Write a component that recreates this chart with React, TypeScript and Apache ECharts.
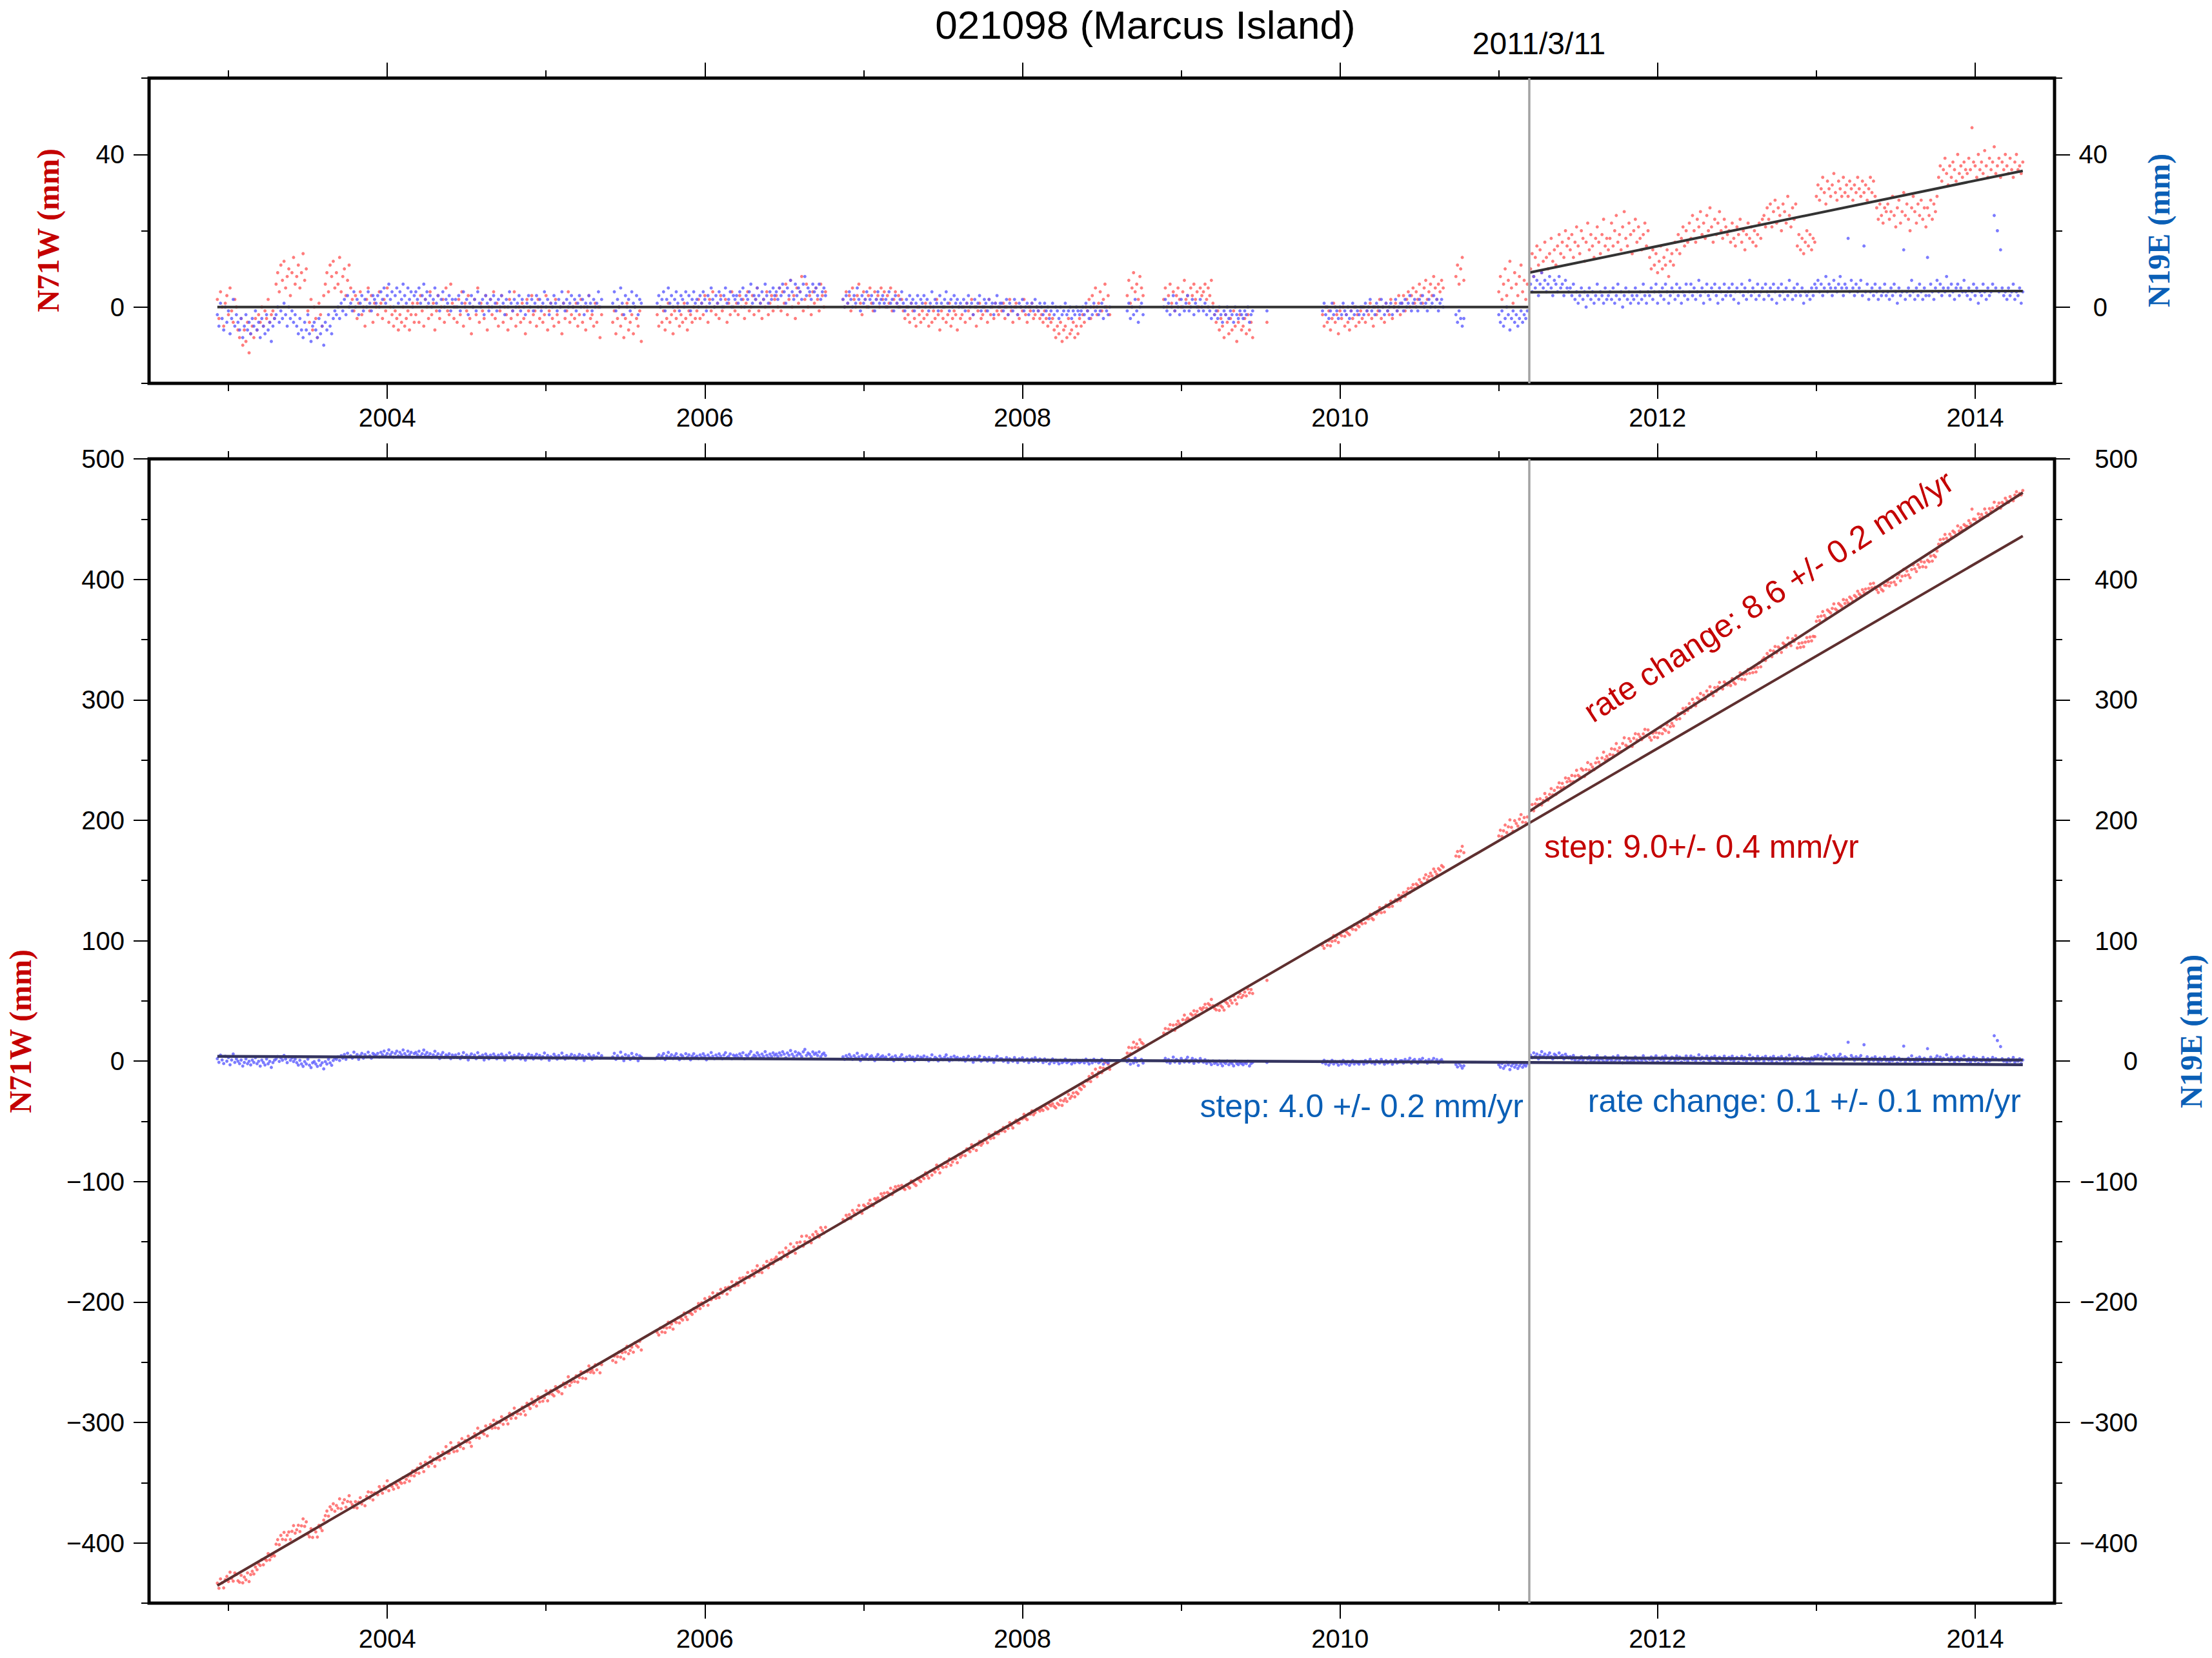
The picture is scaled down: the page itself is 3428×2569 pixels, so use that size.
import React, { useEffect, useRef } from "react";
import * as echarts from "echarts";

// ---------------- texts ----------------
const TITLE = "021098 (Marcus Island)";
const EVENT_LABEL = "2011/3/11";
const NAME_N71W = "N71W (mm)";
const NAME_N19E = "N19E (mm)";
const ANN_RED_RATE = "rate change: 8.6 +/- 0.2 mm/yr";
const ANN_RED_STEP = "step: 9.0+/- 0.4 mm/yr";
const ANN_BLUE_STEP = "step: 4.0 +/- 0.2 mm/yr";
const ANN_BLUE_RATE = "rate change: 0.1 +/- 0.1 mm/yr";

// ---------------- axes ----------------
const X_RANGE = [2002.5, 2014.5];
const X_MINOR_TICKS = [2003, 2004, 2005, 2006, 2007, 2008, 2009, 2010, 2011, 2012, 2013, 2014];
const X_MAJOR_TICKS = [2004, 2006, 2008, 2010, 2012, 2014];
const TOP_Y_RANGE = [-20, 60];
const TOP_Y_MINOR = [-20, 0, 20, 40, 60];
const TOP_Y_MAJOR = [0, 40];
const BOT_Y_RANGE = [-450, 500];
const BOT_Y_MINOR = [-450, -400, -350, -300, -250, -200, -150, -100, -50, 0, 50, 100, 150, 200, 250, 300, 350, 400, 450, 500];
const BOT_Y_MAJOR = [-400, -300, -200, -100, 0, 100, 200, 300, 400, 500];

const EVENT_T = 2011.19;

// ---------------- fitted model ----------------
const FIT_T = [2002.93, 2011.19, 2014.3];
const N71W_TREND = [-435.4, 197.5, 436.0]; // pre-event linear trend and its extension
const N71W_POST = [207.2, 472.0]; // step + rate change fit after the event
const N19E_TREND = [4.0, -1.1, -3.0];
const N19E_POST = [3.0, 0.9];
const N71W_RES_POST = [9.0, 35.7]; // detrended (upper panel) post-event fit
const N19E_RES_POST = [3.9, 4.2];

// ---------------- daily residuals, sampled every 0.01 yr ----------------
const SAMPLE_STEP = 0.01;
const SEG_START = [2002.93, 2005.42, 2005.7, 2006.87, 2008.66, 2008.89, 2009.54, 2009.89, 2010.73, 2011.0, 2011.2];

const N71W_RES = [
  [
    2,-3,4,0,-5,1,3,-2,5,-1,-4,2,0,-6,-8,-3,-10,-6,-9,-4,-12,-7,-5,-8,-3,
    -6,-2,-4,0,-5,-1,-3,2,-4,-2,-1,-3,6,9,4,11,7,12,5,8,10,3,9,13,6,
    8,11,5,9,14,7,10,-1,-4,2,-6,0,-3,-8,1,-2,-5,3,6,9,4,11,8,12,5,
    9,6,13,4,8,10,3,7,11,5,2,-1,3,-3,1,4,-2,0,-5,2,5,-1,3,-4,1,
    0,-2,4,1,-3,2,-1,5,-4,0,-2,-5,-1,-3,-6,-2,-4,0,-5,-3,-1,-6,-2,1,-4,
    -2,1,-4,3,-1,-5,2,0,-3,4,-2,1,-6,-1,3,-3,0,2,-4,5,-1,-2,6,1,-3,
    0,-4,2,-2,4,-5,1,-1,3,-3,-7,0,2,-2,5,-4,1,-1,-3,3,-6,0,2,-2,4,
    -3,1,-5,-1,3,-4,0,-2,-6,2,-3,-1,4,-5,-2,0,-4,1,-3,-7,2,-1,-4,3,-2,
    -1,-5,2,-3,0,-4,-2,3,-6,-1,1,-3,-5,2,-2,-4,0,-7,1,-3,-1,4,-4,-2,0,
    -3,1,-5,-2,2,-4,0,-6,-1,3,-3,-2,-5,1,-4,0,-8,-2,
  ],
  [-4,-1,-7,-3,0,-5,-2,-8,-3,1,-6,-4,-2,-7,0,-3,-5,-1,-9],
  [
    -2,-5,0,-4,-1,-6,-3,1,-4,-2,-7,-1,-3,0,-5,-2,-4,1,-3,-6,-1,-2,-4,0,-3,
    -1,2,-3,1,-2,3,0,-4,2,-1,4,0,-2,1,-3,3,-1,0,2,-4,1,-2,4,0,-1,
    1,-2,3,0,2,-3,1,4,-1,0,3,-2,2,5,-1,1,-3,2,0,4,-2,1,3,-1,2,
    3,0,5,-1,4,1,6,-2,2,7,0,3,-3,5,1,4,8,-1,2,6,0,3,-2,4,1,
    5,2,-1,6,3,0,4,
  ],
  [
    2,0,4,1,3,-1,5,2,0,3,6,1,-2,4,2,0,3,5,1,-1,4,2,3,0,5,
    2,4,0,3,1,5,-1,2,4,1,3,0,2,-1,-3,0,-2,-4,1,-1,-3,-5,0,-2,-4,
    -1,-3,1,-2,-5,0,-4,-1,-3,2,-2,-6,-1,-3,0,-4,-2,1,-5,-3,-1,-2,-6,0,-3,
    -2,0,-4,1,-1,-3,2,-2,0,-5,-1,1,-3,-2,0,-1,-4,2,-2,0,-3,1,-1,-2,0,
    -1,1,-3,0,-2,2,-1,-4,0,1,-2,-3,0,-1,2,-2,-4,0,-1,1,-3,-2,0,-1,-3,
    -2,-4,-1,-3,-5,-2,-4,-3,-6,-8,-5,-7,-4,-9,-6,-5,-8,-3,-7,-6,-4,-8,-5,-7,-3,
    -5,-2,-4,0,-1,2,-3,3,0,5,-2,1,4,-1,2,6,0,3,-2,
  ],
  [3,7,1,5,9,4,6,2,8,5,3],
  [
    2,5,0,3,6,1,4,-1,3,5,2,0,4,7,2,3,1,5,3,6,2,4,0,5,3,
    4,6,2,5,3,7,1,-2,-4,-1,-6,-3,-5,-8,-2,-4,-7,-3,-6,-1,-5,-9,-4,-2,-6,
    -5,-3,-7,-2,-6,-4,-8,
  ],
  [-4],
  [
    -2,-5,0,-4,-1,-6,-3,1,-4,-2,-7,-1,-3,0,-5,-2,-4,-6,-1,-3,0,-5,-2,-4,-1,
    -3,0,-4,-1,-2,1,-3,-5,0,-2,-1,2,-3,0,-4,1,-1,-2,2,-3,0,1,-1,3,-2,
    1,3,-1,2,4,0,3,5,1,4,2,6,3,1,5,7,2,4,6,3,8,5,2,6,4,
    7,5,
  ],
  [8,11,6,10,13,7],
  [4,8,2,6,10,3,7,12,5,1,9,6,3,8,11,4,7,2,6],
  [
    10,14,8,13,16,11,15,9,12,17,13,10,14,18,12,15,11,16,19,14,17,13,20,16,18,
    15,19,13,17,21,16,14,20,18,12,17,22,15,19,16,13,18,21,17,14,19,23,16,18,15,
    18,22,16,20,24,17,19,15,21,25,18,16,22,19,14,20,23,17,21,18,15,19,22,16,20,
    13,10,15,11,14,9,12,16,10,13,11,15,8,12,14,11,17,15,19,14,18,21,16,20,17,
    22,18,24,20,17,23,21,25,19,22,18,24,20,26,21,17,23,19,22,25,20,18,23,21,19,
    20,17,22,18,16,21,19,23,17,20,15,19,22,18,21,17,20,16,19,22,18,23,24,21,26,
    23,27,21,25,28,22,26,24,20,27,25,22,29,24,21,26,23,27,16,19,15,18,14,17,20,
    16,19,15,18,17,29,32,28,31,34,30,27,33,31,29,32,35,30,28,33,31,29,34,30,32,
    29,33,31,28,32,30,34,31,29,33,30,32,28,31,34,30,33,29,26,23,27,24,22,26,25,
    27,23,25,29,24,21,26,28,22,25,30,24,27,23,20,26,29,25,22,27,24,28,23,26,21,
    26,24,28,23,27,25,29,34,37,33,36,39,35,32,37,34,38,36,33,40,35,37,34,38,36,
    35,39,36,47,38,37,34,40,36,38,35,41,37,34,39,36,38,42,35,37,39,34,38,36,40,
    37,35,39,36,34,38,40,36,37,35,38,
  ],
];

const N19E_RES = [
  [
    -2,-5,1,-3,-6,0,-4,-1,-7,-3,2,-5,-2,-4,-6,-3,-8,-5,-2,-6,-4,-7,-3,-5,-1,
    -6,-4,-8,-3,-5,-7,-2,-6,-4,-9,-5,-3,-2,0,-4,-1,-3,1,-2,-5,0,-3,-1,-4,-2,
    -5,-7,-3,-6,-8,-4,-6,-2,-7,-9,-5,-4,-6,-8,-3,-7,-5,-10,-4,-6,-2,-5,-7,-3,-1,
    -2,0,-3,1,-1,2,-2,3,0,1,-1,4,0,2,-2,1,3,-1,2,0,4,1,-1,3,2,
    1,3,0,4,2,5,1,3,6,2,4,0,3,5,1,4,2,6,3,1,5,2,4,0,3,
    4,2,5,1,3,6,2,4,1,3,0,2,5,1,3,-1,2,4,0,2,1,3,-1,2,0,
    2,0,3,-1,1,4,0,2,-2,1,3,0,2,-1,4,1,0,2,-2,3,1,-1,2,0,3,
    1,-1,2,0,3,1,-2,2,0,4,1,-1,2,0,1,3,-1,2,0,-2,1,3,0,2,-1,
    1,3,0,2,-1,1,4,0,2,-2,1,0,3,1,-1,2,0,4,1,-1,2,0,1,3,0,
    2,-1,1,3,0,2,-2,1,0,3,1,-1,2,0,1,4,0,2,
  ],
  [1,4,-1,2,0,5,1,-2,3,0,2,-1,4,1,0,3,-2,2,1],
  [
    1,3,0,2,4,-1,2,5,1,3,0,2,4,1,-1,3,2,0,4,1,3,-1,2,4,1,
    2,0,3,1,4,2,-1,3,1,5,2,0,3,1,4,2,0,3,5,1,2,4,0,3,2,
    3,1,4,2,5,0,3,2,4,6,1,3,2,5,3,1,4,2,6,3,1,4,2,5,3,
    4,2,5,3,6,4,1,5,3,7,4,2,6,3,5,4,2,6,8,3,5,4,2,6,4,
    5,3,6,2,4,5,3,
  ],
  [
    2,0,3,1,4,2,0,3,1,5,2,-1,3,1,2,4,0,2,3,1,-1,2,4,1,2,
    3,1,2,0,4,1,2,-1,3,1,0,2,4,1,-1,2,0,3,1,2,-1,1,3,0,2,
    1,3,0,2,-1,1,4,0,2,1,-1,3,1,0,2,4,1,-1,2,0,3,1,2,0,1,
    0,2,-1,1,3,0,1,-2,2,0,1,3,-1,0,2,1,-1,2,0,1,-2,1,3,0,1,
    1,-1,0,2,-2,1,0,-1,2,0,-2,1,0,2,-1,0,1,-2,0,1,-1,2,0,-1,1,
    0,-2,1,-1,0,-3,-1,1,-2,0,-1,-3,0,-2,-1,1,-2,-1,0,-3,-1,-2,0,-1,-2,
    -1,0,-2,1,-1,-3,0,-2,1,-1,0,-2,-1,1,-3,0,-1,-2,0,
  ],
  [-1,1,-3,0,-2,2,-1,-4,0,1,-2],
  [
    0,2,-1,1,-2,0,3,-1,1,0,-2,2,0,-1,1,3,-1,0,2,-2,1,0,-1,2,0,
    -1,1,-2,0,-1,-3,0,-2,-1,-3,0,-2,-4,-1,-2,0,-3,-1,-2,-4,0,-2,-3,-1,-2,
    -3,-1,-2,0,-4,-2,-1,
  ],
  [-1],
  [
    -1,1,-2,0,-3,-1,1,-2,0,-1,-3,0,-2,1,-1,-2,0,-3,-1,1,-2,0,-1,-2,0,
    0,-2,1,-1,0,2,-1,0,-2,1,0,-1,2,0,-2,1,-1,0,1,-2,0,2,-1,0,1,
    1,-1,2,0,1,3,-1,1,2,0,-1,2,1,3,0,1,-1,2,0,1,3,0,2,-1,1,
    2,0,
  ],
  [-2,-4,-1,-3,-5,-3],
  [-2,-4,-1,-5,-3,0,-2,-6,-3,-1,-4,-2,-5,-3,-1,-4,-2,-3,-1],
  [
    6,4,8,5,7,3,6,9,5,7,4,6,8,5,3,7,6,4,8,5,6,3,7,5,4,
    5,3,6,2,4,1,3,5,2,4,0,3,5,2,4,1,3,6,2,4,3,1,5,2,3,
    4,2,5,1,3,6,2,4,0,3,5,2,4,1,3,2,5,3,1,4,2,6,3,1,4,
    3,5,2,4,6,1,4,3,5,2,6,4,1,3,5,4,2,6,3,5,1,4,3,6,2,
    4,6,3,5,2,4,7,3,5,1,4,6,3,2,5,4,6,3,1,5,4,2,6,3,4,
    5,3,6,2,4,5,1,4,6,3,5,2,4,7,3,5,4,2,6,3,4,5,2,6,4,
    3,5,2,6,4,1,5,3,6,4,2,5,3,7,4,2,5,3,6,4,3,5,1,4,3,
    4,2,5,3,6,5,7,4,6,3,5,8,4,6,5,3,7,5,4,6,8,5,3,6,5,
    18,4,7,5,3,6,4,5,7,3,16,4,6,2,4,5,3,6,4,2,5,3,4,6,3,
    4,2,5,3,6,4,1,5,3,4,15,2,4,5,3,7,4,2,5,3,6,4,2,5,3,
    13,3,6,4,2,5,7,4,6,3,5,4,8,5,3,6,4,2,5,6,3,5,4,7,4,
    3,5,2,4,6,3,5,1,4,3,6,4,2,5,3,4,6,24,5,20,4,15,5,3,4,
    2,5,3,4,6,2,4,3,5,1,4,
  ],
];

// ---------------- layout (pixels) ----------------
const W = 3428;
const H = 2569;
const GRID_LEFT = 231;
const GRID_RIGHT = 244;
const TOP_GRID = { top: 121, height: 473 };
const BOT_GRID = { top: 711, height: 1773 };
const SANS = "'Liberation Sans', Arial, Helvetica, sans-serif";
const SERIF = "'Liberation Serif', 'Times New Roman', serif";
const RED_TEXT = "#c40000";
const BLUE_TEXT = "#0a5fb6";
const RED_DOT = "#ff5b5b";
const BLUE_DOT = "#5b5bff";

const minus = (v: number) => String(v).replace("-", "\u2212");

function trendAt(t: number, trend: number[]) {
  const slope = (trend[1] - trend[0]) / (FIT_T[1] - FIT_T[0]);
  return trend[0] + slope * (t - FIT_T[0]);
}

function buildPoints(res: number[][], trend?: number[]) {
  const out: number[][] = [];
  SEG_START.forEach((s, k) => {
    res[k].forEach((v, i) => {
      const t = Math.round((s + i * SAMPLE_STEP) * 1000) / 1000;
      out.push([t, trend ? trendAt(t, trend) + v : v]);
    });
  });
  return out;
}

function xAxes(gridIndex: number, labelMargin: number) {
  const base = {
    type: "value",
    gridIndex,
    min: X_RANGE[0],
    max: X_RANGE[1],
    axisLine: { show: false, onZero: false },
    splitLine: { show: false },
  };
  const tick = (len: number, vals: number[]) => ({
    show: true,
    inside: false,
    length: len,
    customValues: vals,
    lineStyle: { color: "#000", width: 2 },
  });
  return [
    {
      ...base,
      position: "bottom",
      axisTick: tick(12, X_MINOR_TICKS),
      axisLabel: {
        show: true,
        customValues: X_MAJOR_TICKS,
        margin: labelMargin,
        fontSize: 40,
        color: "#000",
        fontFamily: SANS,
        formatter: (v: number) => String(v),
      },
    },
    { ...base, position: "bottom", axisTick: tick(24, X_MAJOR_TICKS), axisLabel: { show: false } },
    { ...base, position: "top", axisTick: tick(12, X_MINOR_TICKS), axisLabel: { show: false } },
    { ...base, position: "top", axisTick: tick(24, X_MAJOR_TICKS), axisLabel: { show: false } },
  ];
}

function yAxes(gridIndex: number, range: number[], minor: number[], major: number[], rightMargin: number) {
  const base = {
    type: "value",
    gridIndex,
    min: range[0],
    max: range[1],
    axisLine: { show: false, onZero: false },
    splitLine: { show: false },
  };
  const tick = (len: number, vals: number[]) => ({
    show: true,
    inside: false,
    length: len,
    customValues: vals,
    lineStyle: { color: "#000", width: 2 },
  });
  const label = (margin: number, align?: string) => ({
    show: true,
    customValues: major,
    margin,
    fontSize: 40,
    color: "#000",
    fontFamily: SANS,
    formatter: (v: number) => minus(v),
    ...(align ? { align } : {}),
  });
  return [
    { ...base, position: "left", axisTick: tick(12, minor), axisLabel: label(38) },
    { ...base, position: "left", axisTick: tick(24, major), axisLabel: { show: false } },
    { ...base, position: "right", axisTick: tick(12, minor), axisLabel: label(rightMargin, "right") },
    { ...base, position: "right", axisTick: tick(24, major), axisLabel: { show: false } },
  ];
}

function text(
  str: string,
  x: number,
  y: number,
  size: number,
  color: string,
  align: string,
  opts: { rotation?: number; serif?: boolean; bold?: boolean } = {}
) {
  return {
    type: "text",
    x,
    y,
    rotation: opts.rotation || 0,
    silent: true,
    z: 100,
    style: {
      text: str,
      fill: color,
      fontSize: size,
      fontFamily: opts.serif ? SERIF : SANS,
      fontWeight: opts.bold ? "bold" : "normal",
      align,
      textAlign: align,
      verticalAlign: "middle",
      textVerticalAlign: "middle",
    },
  };
}

export default function App() {
  const ref = useRef<HTMLDivElement>(null);

  useEffect(() => {
    document.body.style.margin = "0";
    if (!ref.current) return;
    const chart = echarts.init(ref.current, undefined, { renderer: "svg", width: W, height: H });

    const topRed = buildPoints(N71W_RES);
    const topBlue = buildPoints(N19E_RES);
    const botRed = buildPoints(N71W_RES, N71W_TREND);
    const botBlue = buildPoints(N19E_RES, N19E_TREND);

    const eventLine = {
      silent: true,
      symbol: ["none", "none"],
      label: { show: false },
      lineStyle: { color: "#a3a3a3", width: 3.5, type: "solid" },
      data: [{ xAxis: EVENT_T }],
    };

    const scatter = (xi: number, yi: number, data: number[][], color: string, withLine: boolean) => ({
      type: "scatter",
      xAxisIndex: xi,
      yAxisIndex: yi,
      data,
      symbol: "circle",
      symbolSize: 5,
      itemStyle: { color },
      silent: true,
      z: 2,
      ...(withLine ? { markLine: eventLine } : {}),
    });

    const line = (xi: number, yi: number, data: number[][], color: string, width: number) => ({
      type: "line",
      xAxisIndex: xi,
      yAxisIndex: yi,
      data,
      showSymbol: false,
      symbol: "none",
      silent: true,
      z: 3,
      lineStyle: { color, width },
    });

    const option = {
      animation: false,
      backgroundColor: "#ffffff",
      textStyle: { fontFamily: SANS },
      grid: [
        {
          left: GRID_LEFT,
          right: GRID_RIGHT,
          top: TOP_GRID.top,
          height: TOP_GRID.height,
          show: true,
          borderColor: "#000",
          borderWidth: 5,
          backgroundColor: "transparent",
        },
        {
          left: GRID_LEFT,
          right: GRID_RIGHT,
          top: BOT_GRID.top,
          height: BOT_GRID.height,
          show: true,
          borderColor: "#000",
          borderWidth: 5,
          backgroundColor: "transparent",
        },
      ],
      xAxis: [...xAxes(0, 33), ...xAxes(1, 35)],
      yAxis: [
        ...yAxes(0, TOP_Y_RANGE, TOP_Y_MINOR, TOP_Y_MAJOR, 82),
        ...yAxes(1, BOT_Y_RANGE, BOT_Y_MINOR, BOT_Y_MAJOR, 129),
      ],
      series: [
        // upper panel: detrended residuals
        scatter(0, 0, topRed, RED_DOT, true),
        scatter(0, 0, topBlue, BLUE_DOT, false),
        line(0, 0, [[FIT_T[0], 0], [FIT_T[1], 0]], "#333333", 4),
        line(0, 0, [[FIT_T[1], N71W_RES_POST[0]], [FIT_T[2], N71W_RES_POST[1]]], "#333333", 4),
        line(0, 0, [[FIT_T[1], N19E_RES_POST[0]], [FIT_T[2], N19E_RES_POST[1]]], "#333333", 4),
        // lower panel: full series
        scatter(4, 4, botRed, RED_DOT, true),
        scatter(4, 4, botBlue, BLUE_DOT, false),
        line(4, 4, FIT_T.map((t, i) => [t, N71W_TREND[i]]), "#5e2f2f", 4),
        line(4, 4, [[FIT_T[1], N71W_POST[0]], [FIT_T[2], N71W_POST[1]]], "#5e2f2f", 4),
        line(4, 4, FIT_T.map((t, i) => [t, N19E_TREND[i]]), "#34345f", 4.5),
        line(4, 4, [[FIT_T[1], N19E_POST[0]], [FIT_T[2], N19E_POST[1]]], "#34345f", 4.5),
      ],
      graphic: [
        text(TITLE, 1775, 38, 62, "#000", "center"),
        text(EVENT_LABEL, 2385, 67, 48, "#000", "center"),
        text(NAME_N71W, 74, 357, 48, RED_TEXT, "center", { rotation: Math.PI / 2, serif: true, bold: true }),
        text(NAME_N19E, 3345, 357, 48, BLUE_TEXT, "center", { rotation: Math.PI / 2, serif: true, bold: true }),
        text(NAME_N71W, 31, 1598, 48, RED_TEXT, "center", { rotation: Math.PI / 2, serif: true, bold: true }),
        text(NAME_N19E, 3395, 1598, 48, BLUE_TEXT, "center", { rotation: Math.PI / 2, serif: true, bold: true }),
        text(ANN_RED_RATE, 2741, 924, 50, RED_TEXT, "center", { rotation: (33 * Math.PI) / 180 }),
        text(ANN_RED_STEP, 2393, 1312, 50, RED_TEXT, "left"),
        text(ANN_BLUE_STEP, 2361, 1714, 50, BLUE_TEXT, "right"),
        text(ANN_BLUE_RATE, 3132, 1706, 50, BLUE_TEXT, "right"),
      ],
    };

    chart.setOption(option as any);
    return () => chart.dispose();
  }, []);

  return <div ref={ref} style={{ width: W, height: H }} />;
}
